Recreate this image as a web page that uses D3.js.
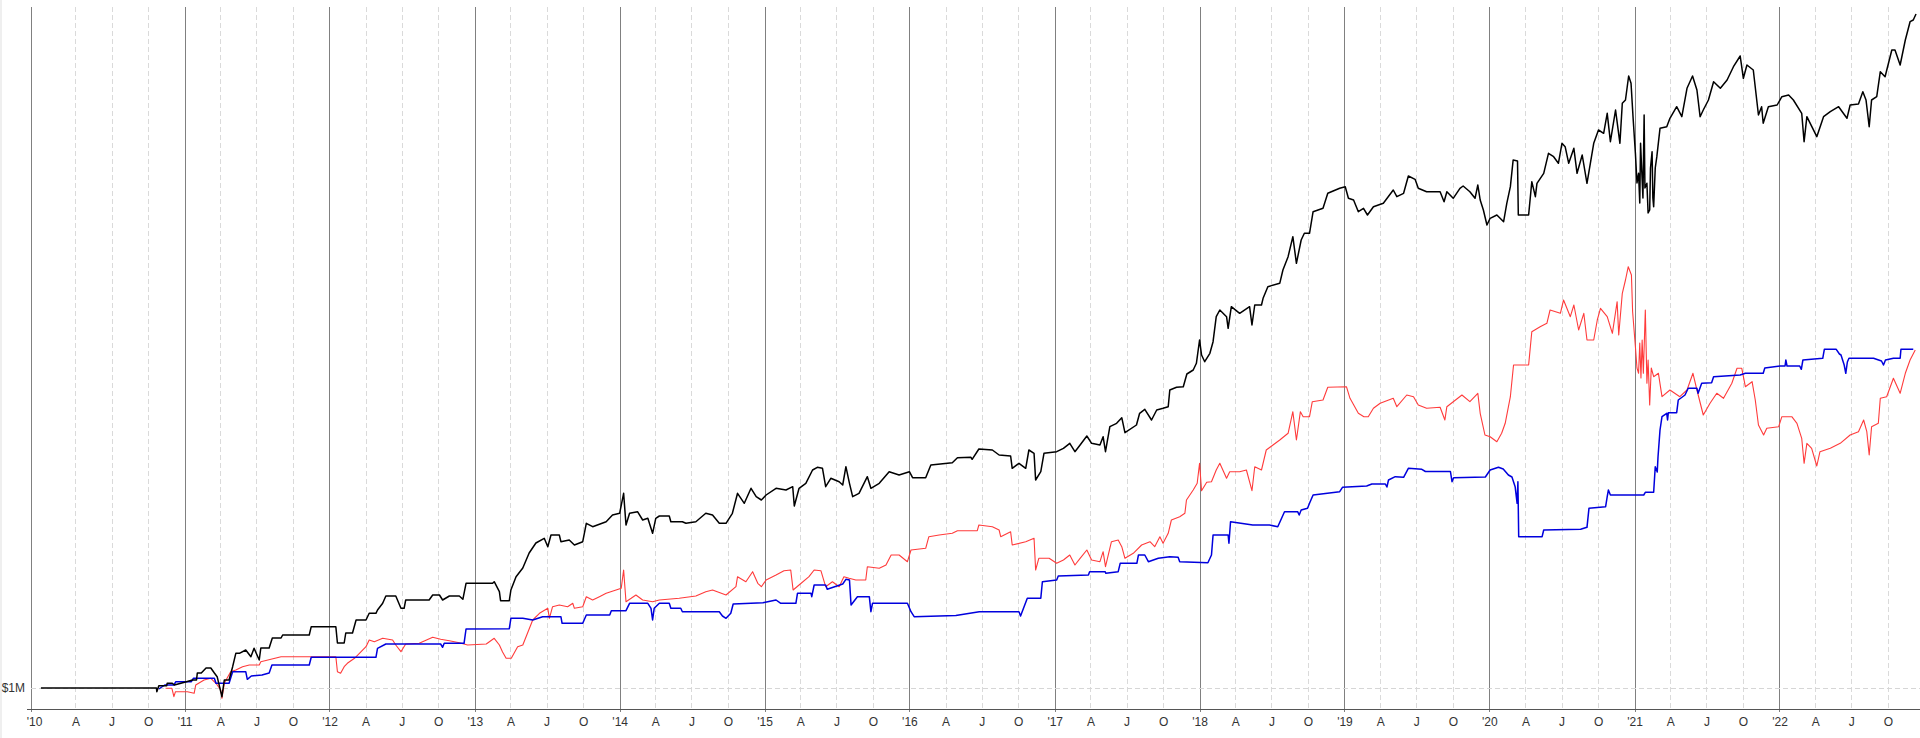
<!DOCTYPE html>
<html><head><meta charset="utf-8">
<script src="https://cdn.jsdelivr.net/npm/d3@7"></script>
<style>html,body{margin:0;padding:0;background:#fff;overflow:hidden}</style>
</head><body><svg id="c" width="1920" height="738"></svg>
<script>
// Equity values in $M
const blackSeries = [["2010-01-04",1.00],["2010-10-22",1.00],["2010-10-23",0.963],["2010-10-28",1.023],["2010-11-17",1.023],["2010-11-18",1.047],["2010-12-01",1.047],["2010-12-06",1.03],["2011-01-01",1.057],["2011-01-21",1.08],["2011-01-31",1.08],["2011-02-02",1.15],["2011-02-12",1.15],["2011-02-24",1.20],["2011-03-08",1.20],["2011-03-17",1.15],["2011-03-24",1.113],["2011-04-05",0.913],["2011-04-11",1.08],["2011-04-23",1.08],["2011-05-02",1.213],["2011-05-10",1.347],["2011-05-19",1.347],["2011-06-04",1.38],["2011-06-17",1.313],["2011-06-25",1.397],["2011-07-08",1.28],["2011-07-12",1.40],["2011-08-02",1.40],["2011-08-10",1.50],["2011-09-01",1.50],["2011-09-05",1.53],["2011-11-11",1.53],["2011-11-16",1.613],["2012-01-17",1.613],["2012-01-21",1.45],["2012-02-07",1.45],["2012-02-11",1.55],["2012-02-28",1.55],["2012-03-08",1.68],["2012-04-02",1.68],["2012-04-10",1.747],["2012-04-27",1.747],["2012-05-01",1.78],["2012-05-14",1.847],["2012-05-22",1.92],["2012-06-16",1.92],["2012-06-29",1.797],["2012-07-07",1.797],["2012-07-11",1.88],["2012-09-08",1.88],["2012-09-17",1.93],["2012-10-04",1.93],["2012-10-12",1.88],["2012-10-29",1.92],["2012-11-23",1.92],["2012-12-02",1.887],["2012-12-10",2.047],["2013-02-15",2.047],["2013-02-19",2.063],["2013-03-04",1.963],["2013-03-07",1.873],["2013-03-29",1.873],["2013-04-02",1.98],["2013-04-15",2.113],["2013-05-02",2.20],["2013-05-18",2.35],["2013-06-04",2.45],["2013-06-25",2.497],["2013-07-04",2.413],["2013-07-12",2.53],["2013-08-02",2.53],["2013-08-06",2.463],["2013-08-27",2.48],["2013-09-09",2.43],["2013-09-30",2.463],["2013-10-09",2.647],["2013-10-25",2.613],["2013-11-28",2.663],["2013-12-14",2.73],["2014-01-01",2.747],["2014-01-11",2.947],["2014-01-17",2.63],["2014-01-26",2.747],["2014-02-15",2.763],["2014-02-28",2.68],["2014-03-13",2.697],["2014-03-25",2.547],["2014-04-02",2.697],["2014-04-11",2.72],["2014-05-06",2.72],["2014-05-10",2.663],["2014-06-08",2.663],["2014-06-17",2.647],["2014-07-12",2.663],["2014-08-06",2.747],["2014-08-23",2.73],["2014-09-09",2.647],["2014-09-26",2.647],["2014-10-12",2.747],["2014-10-25",2.947],["2014-11-11",2.847],["2014-11-28",2.997],["2014-12-11",2.913],["2014-12-24",2.88],["2015-01-05",2.93],["2015-01-30",2.997],["2015-02-24",2.98],["2015-03-13",3.013],["2015-03-17",2.82],["2015-03-29",2.997],["2015-04-15",3.047],["2015-05-02",3.18],["2015-05-14",3.207],["2015-05-27",3.197],["2015-06-04",3.013],["2015-06-17",3.097],["2015-07-08",3.063],["2015-07-17",3.03],["2015-07-25",3.213],["2015-08-03",3.047],["2015-08-11",2.913],["2015-08-27",2.947],["2015-09-17",3.113],["2015-09-26",2.997],["2015-10-17",3.047],["2015-11-11",3.163],["2015-12-06",3.13],["2016-01-01",3.163],["2016-01-09",3.103],["2016-02-11",3.103],["2016-02-24",3.23],["2016-04-18",3.253],["2016-05-01",3.303],["2016-06-04",3.307],["2016-06-07",3.287],["2016-06-24",3.39],["2016-07-28",3.38],["2016-08-14",3.33],["2016-09-12",3.32],["2016-09-16",3.197],["2016-10-03",3.247],["2016-10-20",3.197],["2016-10-28",3.38],["2016-11-10",3.347],["2016-11-14",3.08],["2016-11-27",3.163],["2016-12-05",3.347],["2017-01-06",3.363],["2017-01-23",3.397],["2017-02-08",3.447],["2017-02-21",3.363],["2017-03-06",3.43],["2017-03-23",3.52],["2017-04-04",3.447],["2017-04-25",3.43],["2017-05-03",3.513],["2017-05-09",3.363],["2017-05-20",3.613],["2017-06-06",3.647],["2017-06-19",3.703],["2017-06-27",3.553],["2017-07-26",3.63],["2017-08-03",3.747],["2017-08-16",3.787],["2017-09-02",3.68],["2017-09-15",3.78],["2017-10-01",3.797],["2017-10-14",3.813],["2017-10-18",3.98],["2017-11-04",4.007],["2017-11-21",4.013],["2017-11-30",4.14],["2017-12-16",4.18],["2017-12-24",4.247],["2018-01-01",4.48],["2018-01-06",4.33],["2018-01-14",4.263],["2018-01-27",4.347],["2018-02-04",4.463],["2018-02-12",4.713],["2018-02-21",4.78],["2018-03-10",4.713],["2018-03-14",4.597],["2018-03-22",4.813],["2018-04-12",4.747],["2018-05-07",4.813],["2018-05-13",4.63],["2018-05-20",4.83],["2018-06-06",4.83],["2018-06-10",4.897],["2018-06-22",5.013],["2018-07-22",5.047],["2018-07-30",5.18],["2018-08-12",5.313],["2018-08-24",5.513],["2018-09-02",5.247],["2018-09-14",5.48],["2018-09-22",5.547],["2018-10-05",5.547],["2018-10-14",5.763],["2018-11-08",5.797],["2018-11-20",5.947],["2018-12-20",5.997],["2019-01-03",6.013],["2019-01-11",5.897],["2019-01-24",5.88],["2019-02-05",5.763],["2019-02-18",5.797],["2019-02-28",5.73],["2019-03-15",5.813],["2019-04-09",5.847],["2019-05-04",5.98],["2019-05-13",5.913],["2019-05-30",5.947],["2019-06-11",6.12],["2019-06-28",6.087],["2019-07-06",5.997],["2019-07-27",5.963],["2019-08-30",5.963],["2019-09-09",5.863],["2019-09-16",5.963],["2019-10-02",5.897],["2019-10-19",5.997],["2019-10-27",6.02],["2019-11-13",5.963],["2019-11-26",5.897],["2019-12-03",6.03],["2019-12-09",5.88],["2019-12-17",5.78],["2019-12-26",5.63],["2020-01-03",5.697],["2020-01-20",5.73],["2020-02-06",5.663],["2020-02-14",5.847],["2020-02-23",6.013],["2020-03-01",6.28],["2020-03-12",6.27],["2020-03-14",5.73],["2020-04-09",5.73],["2020-04-17",6.063],["2020-04-26",5.913],["2020-04-30",6.047],["2020-05-17",6.147],["2020-05-29",6.347],["2020-06-11",6.313],["2020-06-23",6.247],["2020-07-02",6.447],["2020-07-10",6.413],["2020-07-19",6.247],["2020-08-01",6.397],["2020-08-09",6.147],["2020-08-22",6.33],["2020-09-03",6.047],["2020-09-20",6.447],["2020-10-02",6.58],["2020-10-15",6.547],["2020-10-24",6.747],["2020-11-01",6.463],["2020-11-14",6.78],["2020-11-25",6.447],["2020-12-01",6.847],["2020-12-09",6.88],["2020-12-17",7.12],["2020-12-23",7.047],["2020-12-28",6.713],["2021-01-03",6.347],["2021-01-07",6.05],["2021-01-11",6.147],["2021-01-14",5.85],["2021-01-16",6.447],["2021-01-20",6.08],["2021-01-22",5.9],["2021-01-25",6.73],["2021-01-27",6.0],["2021-02-01",6.047],["2021-02-04",5.75],["2021-02-08",5.78],["2021-02-10",6.2],["2021-02-14",6.363],["2021-02-16",5.9],["2021-02-18",5.813],["2021-02-22",6.2],["2021-02-26",6.313],["2021-03-06",6.597],["2021-03-23",6.613],["2021-03-31",6.697],["2021-04-17",6.813],["2021-04-30",6.713],["2021-05-13",6.997],["2021-05-27",7.12],["2021-06-07",6.98],["2021-06-15",6.713],["2021-06-23",6.78],["2021-07-06",6.88],["2021-07-19",7.063],["2021-08-05",6.997],["2021-08-22",7.08],["2021-09-07",7.213],["2021-09-24",7.32],["2021-10-02",7.097],["2021-10-11",7.23],["2021-10-27",7.18],["2021-11-09",6.73],["2021-11-17",6.813],["2021-11-21",6.647],["2021-12-04",6.813],["2021-12-26",6.83],["2022-01-07",6.913],["2022-01-24",6.93],["2022-02-05",6.88],["2022-02-26",6.747],["2022-03-04",6.463],["2022-03-11",6.713],["2022-04-05",6.513],["2022-04-22",6.713],["2022-05-09",6.763],["2022-05-30",6.813],["2022-06-20",6.697],["2022-06-28",6.83],["2022-07-19",6.84],["2022-07-30",6.963],["2022-08-07",6.88],["2022-08-15",6.613],["2022-08-21",6.88],["2022-09-03",6.913],["2022-09-12",7.163],["2022-09-24",7.113],["2022-10-11",7.38],["2022-10-19",7.38],["2022-11-01",7.23],["2022-11-14",7.48],["2022-11-26",7.663],["2022-12-04",7.68],["2022-12-11",7.74]];

const redSeries = [["2010-11-14",0.997],["2010-11-30",0.997],["2010-12-05",0.913],["2010-12-09",0.963],["2011-01-08",0.963],["2011-01-25",0.947],["2011-01-29",1.03],["2011-02-19",1.08],["2011-03-08",1.097],["2011-03-21",1.047],["2011-04-02",0.98],["2011-04-05",0.897],["2011-04-11",1.047],["2011-04-27",1.163],["2011-05-10",1.18],["2011-05-27",1.213],["2011-06-13",1.23],["2011-07-08",1.23],["2011-07-12",1.263],["2011-09-01",1.313],["2012-01-17",1.313],["2012-01-21",1.163],["2012-01-29",1.147],["2012-02-07",1.213],["2012-02-15",1.247],["2012-03-04",1.297],["2012-04-02",1.413],["2012-04-10",1.48],["2012-04-23",1.463],["2012-05-14",1.497],["2012-06-08",1.48],["2012-06-16",1.43],["2012-06-29",1.363],["2012-07-11",1.44],["2012-08-14",1.447],["2012-09-17",1.507],["2012-10-07",1.487],["2012-10-29",1.473],["2012-11-23",1.453],["2012-12-14",1.43],["2013-01-30",1.44],["2013-02-19",1.497],["2013-03-04",1.43],["2013-03-12",1.36],["2013-03-21",1.297],["2013-04-03",1.297],["2013-04-19",1.413],["2013-05-02",1.43],["2013-05-27",1.68],["2013-06-13",1.747],["2013-07-04",1.797],["2013-07-08",1.697],["2013-07-16",1.813],["2013-08-02",1.83],["2013-08-23",1.813],["2013-09-05",1.847],["2013-09-09",1.797],["2013-09-30",1.813],["2013-10-09",1.913],["2013-10-25",1.88],["2013-11-11",1.913],["2013-11-28",1.947],["2013-12-23",1.98],["2014-01-05",1.997],["2014-01-11",2.18],["2014-01-17",1.863],["2014-01-30",1.897],["2014-02-11",1.93],["2014-02-28",1.88],["2014-03-25",1.863],["2014-04-11",1.88],["2014-05-31",1.897],["2014-07-12",1.92],["2014-08-06",1.963],["2014-08-23",1.98],["2014-09-26",1.93],["2014-10-21",2.013],["2014-10-25",2.113],["2014-11-15",2.063],["2014-12-02",2.163],["2014-12-15",2.047],["2014-12-24",2.013],["2015-01-05",2.08],["2015-01-30",2.13],["2015-02-19",2.173],["2015-03-08",2.18],["2015-03-14",1.98],["2015-03-29",2.03],["2015-04-23",2.113],["2015-05-06",2.18],["2015-05-23",2.173],["2015-06-04",2.013],["2015-06-21",2.063],["2015-07-08",2.013],["2015-07-20",2.113],["2015-08-02",2.097],["2015-08-19",2.08],["2015-09-13",2.08],["2015-09-17",2.213],["2015-10-17",2.197],["2015-11-03",2.23],["2015-11-16",2.33],["2015-12-06",2.33],["2015-12-27",2.263],["2016-01-05",2.38],["2016-02-11",2.397],["2016-02-19",2.513],["2016-03-16",2.53],["2016-04-18",2.547],["2016-05-01",2.573],["2016-06-20",2.573],["2016-06-24",2.63],["2016-07-28",2.613],["2016-08-14",2.58],["2016-08-18",2.513],["2016-09-12",2.563],["2016-09-16",2.43],["2016-10-20",2.463],["2016-11-10",2.497],["2016-11-14",2.18],["2016-11-22",2.297],["2016-12-18",2.297],["2017-01-06",2.247],["2017-01-23",2.28],["2017-02-08",2.33],["2017-02-21",2.23],["2017-03-06",2.297],["2017-03-23",2.38],["2017-04-04",2.28],["2017-04-25",2.263],["2017-05-03",2.363],["2017-05-09",2.213],["2017-05-24",2.463],["2017-06-10",2.48],["2017-06-19",2.413],["2017-06-27",2.297],["2017-07-18",2.347],["2017-08-08",2.43],["2017-08-29",2.463],["2017-09-10",2.413],["2017-09-23",2.513],["2017-10-01",2.447],["2017-10-14",2.547],["2017-10-22",2.68],["2017-11-12",2.713],["2017-11-25",2.747],["2017-11-29",2.88],["2017-12-16",2.98],["2017-12-26",3.047],["2018-01-01",3.247],["2018-01-06",2.973],["2018-01-19",3.057],["2018-01-31",3.063],["2018-02-12",3.18],["2018-02-21",3.247],["2018-03-10",3.097],["2018-03-18",3.163],["2018-04-12",3.163],["2018-04-29",3.18],["2018-05-13",2.973],["2018-05-20",3.213],["2018-06-06",3.18],["2018-06-18",3.38],["2018-07-05",3.43],["2018-07-22",3.48],["2018-08-12",3.547],["2018-08-24",3.763],["2018-09-02",3.48],["2018-09-12",3.763],["2018-09-19",3.713],["2018-10-05",3.713],["2018-10-12",3.863],["2018-11-08",3.88],["2018-11-20",4.007],["2019-01-06",4.013],["2019-01-15",3.897],["2019-02-05",3.747],["2019-02-19",3.713],["2019-03-02",3.713],["2019-03-15",3.797],["2019-04-01",3.847],["2019-05-04",3.897],["2019-05-13",3.813],["2019-06-07",3.93],["2019-06-24",3.913],["2019-07-06",3.83],["2019-07-27",3.797],["2019-08-30",3.807],["2019-09-11",3.68],["2019-09-16",3.813],["2019-10-24",3.93],["2019-11-13",3.863],["2019-12-03",3.947],["2019-12-09",3.747],["2019-12-21",3.53],["2020-01-03",3.513],["2020-01-20",3.463],["2020-02-01",3.547],["2020-02-10",3.647],["2020-02-23",3.913],["2020-03-02",4.23],["2020-04-09",4.23],["2020-04-17",4.563],["2020-05-08",4.613],["2020-05-25",4.647],["2020-06-02",4.78],["2020-06-28",4.747],["2020-07-06",4.88],["2020-07-23",4.713],["2020-08-01",4.83],["2020-08-13",4.58],["2020-08-26",4.747],["2020-09-03",4.48],["2020-09-20",4.48],["2020-09-29",4.68],["2020-10-07",4.797],["2020-10-24",4.713],["2020-11-06",4.547],["2020-11-18",4.863],["2020-11-22",4.53],["2020-12-01",4.947],["2020-12-09",5.08],["2020-12-16",5.213],["2020-12-24",5.13],["2020-12-27",4.763],["2021-01-03",4.413],["2021-01-07",4.2],["2021-01-11",4.147],["2021-01-14",4.45],["2021-01-17",4.1],["2021-01-20",4.48],["2021-01-23",4.147],["2021-01-28",4.78],["2021-02-01",4.047],["2021-02-04",4.28],["2021-02-08",3.83],["2021-02-12",4.2],["2021-02-18",4.113],["2021-03-02",4.147],["2021-03-11",3.913],["2021-03-31",3.98],["2021-04-25",3.913],["2021-05-13",3.98],["2021-05-28",4.147],["2021-06-07",3.98],["2021-06-23",3.73],["2021-07-10",3.847],["2021-07-27",3.947],["2021-08-13",3.897],["2021-09-03",4.047],["2021-09-16",4.197],["2021-09-28",4.197],["2021-10-07",4.013],["2021-10-24",4.063],["2021-11-01",3.88],["2021-11-09",3.63],["2021-11-22",3.53],["2021-11-30",3.597],["2021-12-30",3.613],["2022-01-07",3.713],["2022-02-01",3.713],["2022-02-14",3.647],["2022-02-26",3.497],["2022-03-04",3.247],["2022-03-11",3.447],["2022-03-23",3.397],["2022-04-05",3.22],["2022-04-13",3.363],["2022-05-09",3.397],["2022-06-03",3.447],["2022-06-28",3.53],["2022-07-19",3.563],["2022-08-01",3.68],["2022-08-09",3.563],["2022-08-15",3.33],["2022-08-21",3.613],["2022-09-07",3.647],["2022-09-12",3.897],["2022-09-28",3.913],["2022-10-15",4.097],["2022-11-01",3.947],["2022-11-14",4.147],["2022-11-26",4.28],["2022-12-09",4.38]];

const blueSeries = [["2010-10-28",0.99],["2010-11-12",1.03],["2010-12-05",1.03],["2010-12-10",1.063],["2011-01-18",1.063],["2011-01-23",1.097],["2011-03-17",1.097],["2011-03-21",1.047],["2011-04-23",1.047],["2011-05-02",1.163],["2011-06-04",1.163],["2011-06-08",1.087],["2011-06-18",1.12],["2011-07-15",1.13],["2011-08-02",1.15],["2011-08-09",1.23],["2011-11-11",1.23],["2011-11-16",1.307],["2012-04-27",1.307],["2012-05-01",1.397],["2012-05-22",1.44],["2012-10-07",1.44],["2012-10-12",1.407],["2012-10-16",1.447],["2012-12-05",1.447],["2012-12-10",1.59],["2013-03-29",1.593],["2013-04-02",1.697],["2013-05-02",1.697],["2013-05-27",1.68],["2013-06-21",1.713],["2013-08-06",1.713],["2013-08-09",1.647],["2013-09-30",1.647],["2013-10-09",1.73],["2013-12-07",1.73],["2013-12-11",1.773],["2014-01-17",1.773],["2014-01-26",1.847],["2014-03-13",1.847],["2014-03-21",1.797],["2014-03-25",1.68],["2014-03-29",1.797],["2014-04-11",1.847],["2014-05-06",1.847],["2014-05-10",1.797],["2014-06-04",1.797],["2014-06-08",1.763],["2014-09-09",1.763],["2014-09-17",1.72],["2014-09-26",1.697],["2014-10-08",1.747],["2014-10-14",1.84],["2014-12-28",1.853],["2015-01-30",1.88],["2015-02-11",1.847],["2015-03-21",1.847],["2015-03-25",1.947],["2015-04-28",1.947],["2015-04-30",1.913],["2015-05-06",2.03],["2015-06-04",2.03],["2015-06-08",1.987],["2015-07-17",2.04],["2015-07-25",2.087],["2015-08-03",2.08],["2015-08-07",1.83],["2015-08-23",1.913],["2015-09-22",1.913],["2015-09-26",1.763],["2015-09-30",1.847],["2015-12-27",1.847],["2016-01-05",1.763],["2016-01-13",1.713],["2016-04-27",1.725],["2016-06-25",1.763],["2016-10-03",1.763],["2016-10-07",1.72],["2016-10-24",1.897],["2016-11-27",1.897],["2016-12-01",2.063],["2017-01-06",2.08],["2017-01-10",2.12],["2017-03-27",2.13],["2017-03-30",2.163],["2017-05-08",2.163],["2017-05-10",2.147],["2017-06-10",2.163],["2017-06-15",2.247],["2017-07-27",2.247],["2017-07-31",2.33],["2017-08-16",2.33],["2017-08-25",2.263],["2017-09-19",2.297],["2017-10-18",2.313],["2017-11-08",2.307],["2017-11-12",2.263],["2018-01-22",2.253],["2018-01-31",2.33],["2018-02-04",2.53],["2018-03-14",2.53],["2018-03-16",2.447],["2018-03-20",2.663],["2018-05-15",2.63],["2018-06-26",2.63],["2018-07-17",2.613],["2018-08-03",2.763],["2018-09-05",2.763],["2018-09-09",2.73],["2018-09-14",2.78],["2018-09-30",2.797],["2018-10-05",2.847],["2018-10-14",2.93],["2018-12-20",2.963],["2018-12-27",3.007],["2019-02-26",3.02],["2019-03-11",3.04],["2019-04-14",3.04],["2019-04-18",3.01],["2019-04-22",3.08],["2019-05-09",3.113],["2019-05-30",3.107],["2019-06-11",3.197],["2019-07-15",3.187],["2019-07-24",3.165],["2019-09-25",3.165],["2019-09-29",3.063],["2019-10-03",3.103],["2019-12-22",3.11],["2020-01-03",3.18],["2020-01-24",3.207],["2020-02-05",3.19],["2020-02-18",3.13],["2020-02-27",3.11],["2020-03-06",3.013],["2020-03-11",2.847],["2020-03-13",3.063],["2020-03-15",2.513],["2020-05-13",2.513],["2020-05-17",2.58],["2020-08-18",2.587],["2020-09-03",2.607],["2020-09-08",2.797],["2020-10-20",2.813],["2020-10-24",2.913],["2020-10-27",2.98],["2020-11-01",2.93],["2021-01-24",2.93],["2021-01-28",2.957],["2021-02-18",2.957],["2021-02-22",3.213],["2021-02-27",3.16],["2021-03-01",3.313],["2021-03-06",3.58],["2021-03-11",3.713],["2021-03-23",3.747],["2021-03-25",3.68],["2021-03-27",3.753],["2021-04-17",3.753],["2021-04-21",3.88],["2021-05-08",3.93],["2021-05-16",3.997],["2021-06-07",3.997],["2021-06-10",3.947],["2021-06-19",4.047],["2021-07-14",4.053],["2021-07-19",4.113],["2021-09-24",4.13],["2021-10-07",4.147],["2021-11-21",4.147],["2021-11-25",4.20],["2022-01-03",4.22],["2022-01-15",4.22],["2022-01-17",4.28],["2022-01-20",4.22],["2022-02-21",4.22],["2022-02-25",4.187],["2022-03-01",4.28],["2022-04-20",4.297],["2022-04-24",4.387],["2022-05-24",4.387],["2022-06-01",4.34],["2022-06-05",4.33],["2022-06-13",4.23],["2022-06-17",4.147],["2022-06-21",4.26],["2022-06-25",4.297],["2022-08-26",4.297],["2022-09-15",4.27],["2022-09-20",4.23],["2022-09-25",4.28],["2022-10-15",4.297],["2022-11-01",4.297],["2022-11-03",4.387],["2022-12-04",4.387]];

const yTickValues = [1];
const yTickLabels = ["$1M"];
const quarterLetters = {3: "A", 6: "J", 9: "O"};
const seriesColors = ["#ff3b3b", "#0000dd", "#000000"];

const svg = d3.select("#c");
const parse = d3.timeParse("%Y-%m-%d");
const xStart = new Date(2009, 11, 10), xEnd = new Date(2022, 11, 21);
const x = d3.scaleTime().domain([xStart, xEnd]).range([31, 1920]);
const y = d3.scaleLinear().domain([0.79, 7.81]).range([709, 7]);

svg.append("rect").attr("x", 0).attr("y", 0).attr("width", 2).attr("height", 738).attr("fill", "#efefef");

const quarterTicks = [xStart].concat(d3.timeMonth.range(new Date(2010, 3, 1), xEnd, 3));
const isYear = d => d === xStart || d.getMonth() === 0;
const yearOf = d => d === xStart ? 2010 : d.getFullYear();
const fmt = d => isYear(d) ? "'" + String(yearOf(d)).slice(2) : quarterLetters[d.getMonth()];

// vertical gridlines
svg.append("g").selectAll("line").data(quarterTicks.filter(d => !isYear(d))).join("line")
  .attr("x1", d => Math.round(x(d)) + 0.5).attr("x2", d => Math.round(x(d)) + 0.5)
  .attr("y1", 7).attr("y2", 709)
  .attr("stroke", "#dadada").attr("stroke-width", 1).attr("stroke-dasharray", "5,3");
svg.append("g").selectAll("line").data(quarterTicks.filter(isYear)).join("line")
  .attr("x1", d => Math.round(x(d)) + 0.5).attr("x2", d => Math.round(x(d)) + 0.5)
  .attr("y1", 7).attr("y2", 712)
  .attr("stroke", "#808080").attr("stroke-width", 1);

// horizontal gridline
svg.append("g").selectAll("line").data(yTickValues).join("line")
  .attr("x1", 31).attr("x2", 1920)
  .attr("y1", d => Math.round(y(d)) + 0.5).attr("y2", d => Math.round(y(d)) + 0.5)
  .attr("stroke", "#d6d6d6").attr("stroke-dasharray", "5,3");

// axes
const xAxis = d3.axisBottom(x).tickValues(quarterTicks).tickFormat(fmt).tickSize(0).tickPadding(8);
const gx = svg.append("g").attr("transform", "translate(0,709.5)").call(xAxis);
gx.select(".domain").remove();
gx.append("line").attr("x1", 27).attr("x2", 1920).attr("stroke", "#555");
gx.selectAll("text").attr("font-family", "Liberation Sans, Arial, sans-serif").attr("font-size", 12).attr("fill", "#333")
  .attr("dx", d => d === xStart ? 3 : 0);

const yAxis = d3.axisLeft(y).tickValues(yTickValues).tickFormat((d, i) => yTickLabels[i]).tickSize(0).tickPadding(6);
const gy = svg.append("g").attr("transform", "translate(31,0)").call(yAxis);
gy.select(".domain").remove();
gy.selectAll("text").attr("font-family", "Liberation Sans, Arial, sans-serif").attr("font-size", 12).attr("fill", "#333");

// lines
const line = d3.line().x(d => x(parse(d[0]))).y(d => y(d[1]));
[[redSeries, 1.1], [blueSeries, 1.5], [blackSeries, 1.5]].forEach(([s, w], i) => {
  svg.append("path").datum(s).attr("d", line).attr("fill", "none")
    .attr("stroke", seriesColors[i]).attr("stroke-width", w).attr("stroke-linejoin", "round");
});
</script></body></html>
